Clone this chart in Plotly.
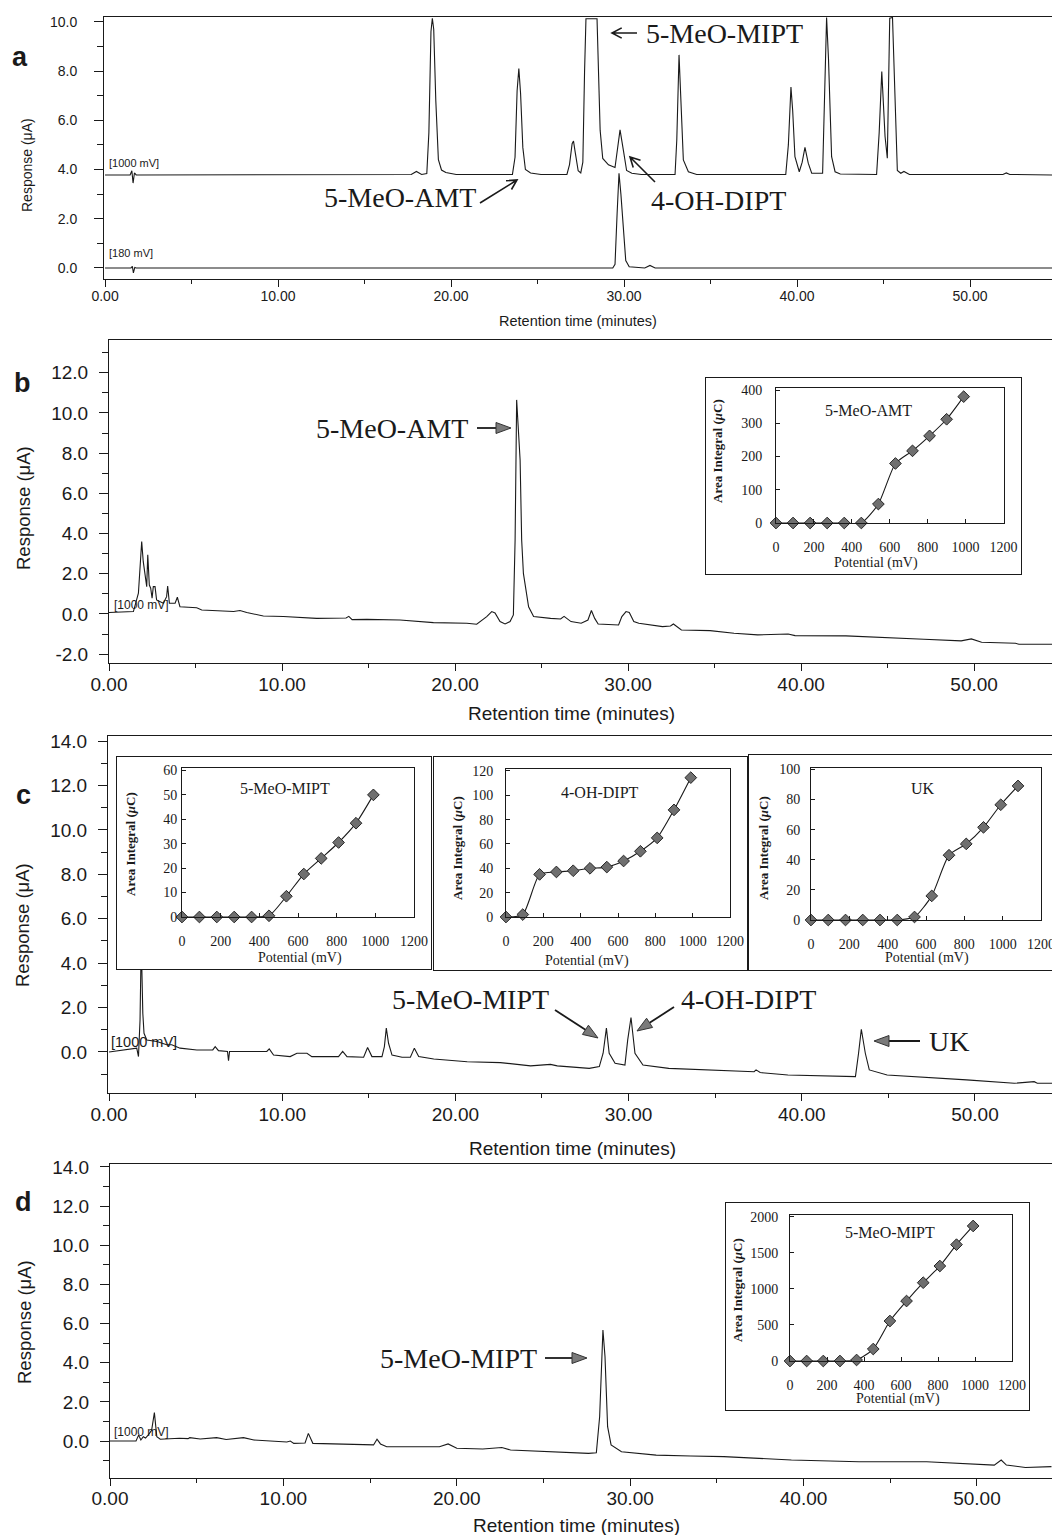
import math
import plotly.graph_objects as go

W, H = 1052, 1535

# ---------------- chromatogram data: retention time (min) / response (uA) ----------------
a_hi_time = [0.0, 1.45, 1.55, 1.62, 1.7, 1.8, 17.7, 18.0, 18.3, 18.6, 18.72, 18.84, 18.92, 19.0, 19.12, 19.27,
             19.45, 19.7, 20.3, 23.55, 23.7, 23.82, 23.92, 24.02, 24.15, 24.3, 24.6, 25.2, 26.7, 26.85, 27.0,
             27.08, 27.18, 27.35, 27.5, 27.62, 27.72, 27.8, 28.44, 28.52, 28.62, 28.77, 29.1, 29.48, 29.62,
             29.77, 29.96, 30.15, 30.45, 31.0, 32.95, 33.05, 33.18, 33.3, 33.43, 33.72, 34.2, 39.35, 39.5,
             39.65, 39.75, 39.88, 40.13, 40.3, 40.46, 40.65, 40.85, 41.48, 41.58, 41.71, 41.82, 42.0, 42.2,
             42.5, 44.6, 44.75, 44.9, 45.0, 45.09, 45.22, 45.3, 45.36, 45.52, 45.6, 45.68, 45.8, 46.0, 46.18,
             46.5, 51.9, 52.1, 52.3, 54.75]
a_hi_resp = [3.78, 3.78, 3.95, 3.45, 3.86, 3.78, 3.8, 3.92, 3.8, 3.84, 5.5, 9.6, 10.15, 9.7, 6.8, 4.4,
             3.98, 3.88, 3.8, 3.8, 4.5, 7.2, 8.1, 7.1, 4.9, 4.0, 3.86, 3.8, 3.8, 4.2, 5.05,
             5.16, 4.7, 3.95, 3.86, 4.3, 8.0, 10.13, 10.13, 8.0, 5.6, 4.45, 4.19, 4.08, 4.8,
             5.61, 4.8, 3.96, 3.85, 3.8, 3.8, 5.2, 8.66, 6.5, 4.39, 3.91, 3.8, 3.8, 5.0,
             7.35, 6.4, 4.52, 3.91, 4.3, 4.9, 4.26, 3.85, 3.85, 6.5, 10.18, 8.5, 4.52, 3.91,
             3.82, 3.8, 5.5, 7.98, 6.8, 5.34, 4.46, 7.5, 10.15, 10.18, 8.5, 6.2, 3.96, 3.85, 3.92,
             3.8, 3.8, 3.86, 3.8, 3.78]

a_lo_time = [0.0, 1.5, 1.58, 1.64, 1.72, 1.8, 29.35, 29.48, 29.6, 29.71, 29.82, 29.96, 30.1, 30.3,
             31.2, 31.5, 31.8, 54.75]
a_lo_resp = [0.0, 0.0, 0.06, -0.2, 0.02, 0.0, 0.0, 0.15, 2.2, 3.85, 3.0, 1.41, 0.3, 0.05,
             0.0, 0.1, 0.0, 0.0]

b_time = [0.0, 1.41, 1.7, 1.89, 1.98, 2.1, 2.18, 2.24, 2.33, 2.41, 2.49, 2.56, 2.66, 2.75, 3.14, 3.33,
          3.39, 3.49, 3.82, 3.95, 4.1, 5.07, 5.36, 7.2, 7.57, 7.96, 8.92, 10.08, 12.0, 13.7, 13.86, 14.05,
          14.9, 16.82, 18.17, 18.75, 20.68, 21.25, 21.83, 22.12, 22.31, 22.6, 22.89, 23.18, 23.37, 23.47,
          23.56, 23.76, 23.85, 23.95, 24.25, 24.54, 25.52, 26.1, 26.3, 26.5, 26.7, 27.29, 27.68, 27.88,
          28.07, 28.27, 29.45, 29.64, 29.88, 30.07, 30.33, 30.62, 31.99, 32.45, 32.62, 33.08, 34.74,
          36.12, 37.49, 39.25, 39.65, 42.59, 45.34, 47.1, 49.25, 49.84, 50.43, 52.39, 52.59, 54.5]
b_resp = [0.07, 0.12, 1.03, 3.6, 2.6, 1.77, 1.36, 2.94, 1.44, 1.28, 0.78, 1.36, 1.36, 0.7, 0.53, 0.86,
          1.39, 0.53, 0.53, 0.83, 0.36, 0.31, 0.2, 0.12, 0.17, 0.07, -0.1, -0.13, -0.22, -0.2, -0.12, -0.28,
          -0.27, -0.3, -0.38, -0.43, -0.46, -0.51, -0.13, 0.12, 0.05, -0.38, -0.5, -0.38, -0.05, 3.68,
          10.65, 7.66, 3.68, 2.02, 0.36, -0.13, -0.22, -0.25, -0.12, -0.25, -0.38, -0.46, -0.3, 0.17,
          -0.22, -0.5, -0.55, -0.13, 0.12, 0.07, -0.38, -0.46, -0.63, -0.6, -0.5, -0.8, -0.83,
          -0.96, -1.04, -1.0, -1.08, -1.09, -1.21, -1.26, -1.34, -1.24, -1.41, -1.46, -1.51, -1.51]

c_time = [0.0, 1.6, 1.7, 1.79, 1.86, 1.95, 2.02, 2.18, 2.76, 3.33, 3.62, 4.1, 5.07, 5.99, 6.13, 6.32,
          6.84, 6.9, 6.96, 9.11, 9.25, 9.5, 10.46, 10.85, 11.43, 11.71, 13.25, 13.49, 13.74, 14.7, 14.93,
          15.18, 15.76, 15.9, 16.01, 16.14, 16.34, 16.92, 17.4, 17.63, 17.88, 18.75, 20.68, 22.6, 24.34,
          25.49, 25.88, 27.03, 27.73, 28.31, 28.53, 28.72, 28.88, 29.22, 29.79, 29.95, 30.14, 30.37,
          30.83, 32.32, 34.61, 37.25, 37.36, 37.6, 39.2, 41.49, 43.1, 43.28, 43.44, 43.67, 43.9, 44.93,
          47.23, 49.52, 52.27, 52.96, 53.42, 53.6, 54.5]
c_resp = [0.0, 0.17, -0.21, 1.44, 5.0, 1.74, 0.84, 0.54, 0.47, 0.32, 0.32, 0.17, 0.09, 0.09, 0.24, 0.06,
          0.02, -0.39, 0.02, 0.02, 0.14, -0.14, -0.21, -0.06, -0.06, -0.21, -0.21, 0.02, -0.21, -0.24, 0.2,
          -0.21, -0.21, 0.24, 1.07, 0.39, -0.14, -0.24, -0.24, 0.17, -0.21, -0.32, -0.44, -0.48, -0.63,
          -0.56, -0.63, -0.69, -0.74, -0.66, -0.06, 1.07, -0.06, -0.51, -0.59, 0.54, 1.55, -0.06,
          -0.59, -0.74, -0.81, -0.89, -0.81, -0.93, -1.04, -1.08, -1.11, -0.06, 1.02, -0.06, -0.81, -1.04,
          -1.14, -1.26, -1.41, -1.38, -1.34, -1.41, -1.41]

d_time = [0.0, 1.5, 1.65, 1.78, 1.92, 2.05, 2.2, 2.4, 2.56, 2.7, 2.9, 4.0, 4.5, 4.6, 5.2, 6.15, 6.7, 7.7,
          8.3, 9.0, 10.2, 10.4, 10.6, 11.25, 11.44, 11.7, 12.9, 15.2, 15.4, 15.6, 15.96, 19.0, 19.5, 20.0,
          21.5, 22.6, 23.1, 25.6, 27.6, 28.05, 28.24, 28.43, 28.55, 28.7, 28.9, 29.5, 31.5, 33.5, 35.4,
          39.3, 43.2, 47.1, 49.1, 51.0, 51.4, 51.7, 52.8, 54.3]
d_resp = [0.0, 0.0, 0.3, 0.05, 0.22, 0.15, 0.3, 0.55, 1.45, 0.22, 0.09, 0.14, 0.12, 0.17, 0.1, 0.17, 0.08,
          0.17, 0.05, 0.0, -0.05, 0.0, -0.12, -0.1, 0.39, -0.12, -0.15, -0.2, 0.09, -0.15, -0.29, -0.29,
          -0.15, -0.37, -0.41, -0.33, -0.46, -0.55, -0.63, -0.6, 1.24, 5.67, 4.3, 0.73, -0.2, -0.55,
          -0.72, -0.77, -0.8, -0.97, -1.06, -1.06, -1.14, -1.23, -0.97, -1.23, -1.35, -1.31]

# y tick labels for panel b (hyphen minus as printed)
b_ytick_vals = [-2, 0, 2, 4, 6, 8, 10, 12]
b_ytick_text = ["-2.0", "0.0", "2.0", "4.0", "6.0", "8.0", "10.0", "12.0"]

# ---------------- inset data: potential (mV) / area integral (uC) ----------------
potential_mv = [0, 90, 180, 270, 360, 450, 540, 630, 720, 810, 900, 990]
potential_uk_mv = [0, 90, 180, 270, 360, 450, 540, 630, 720, 810, 900, 990, 1080]
area_b_amt = [0, 0, 0, 0, 0, 0, 57, 179, 217, 262, 312, 380]
area_c_mipt = [0, 0, 0, 0, 0, 0.5, 8.5, 17.6, 24, 30.5, 38.4, 50]
area_c_dipt = [0, 2, 35, 37, 38, 40, 41, 46, 54, 65, 88, 114.5]
area_c_uk = [0, 0, 0, 0, 0, 0, 2, 16, 43, 50.5, 61.5, 76.5, 89]
area_d_mipt = [0, 0, 0, 0, 14, 166, 554, 831, 1085, 1316, 1612, 1871]
potential_ticks = [0, 200, 400, 600, 800, 1000, 1200]

# ---------------- helpers ----------------
SANS = "Liberation Sans, Arial, sans-serif"
SERIF = "Liberation Serif, Times New Roman, serif"
INK = "#1a1a1a"


def X(px):
    return px / W


def Y(py):
    return 1 - py / H


fig = go.Figure()
layout = dict(template="none", width=W, height=H,
              margin=dict(l=0, r=0, t=0, b=0, pad=0, autoexpand=False),
              paper_bgcolor="white", plot_bgcolor="white", showlegend=False)
annotations = []
shapes = []


def aname(kind, n):
    return kind + "axis" + ("" if n == 1 else str(n))


def ref(kind, n):
    return kind + ("" if n == 1 else str(n))


# main chromatogram panels
main_specs = [
    # n, left, top, bottom, xrange, yrange, font size, y standoff, x standoff
    (1, 104, 17, 279, [-0.06, 54.74], [-0.45, 10.2], 14, 14, -3),
    (2, 109, 340, 663, [0, 54.5], [-2.44, 13.63], 19, 7, -3),
    (3, 108, 736, 1093, [-0.06, 54.45], [-1.85, 14.23], 19, 7, -3),
    (4, 110, 1164, 1478, [0, 54.33], [-1.89, 14.15], 19, 7, -4),
]
for n, left, top, bot, xr, yr, fs, ys, xs in main_specs:
    layout[aname("x", n)] = dict(
        domain=[X(left), 1], range=xr, anchor=ref("y", n), showline=True, linecolor=INK, linewidth=1,
        mirror=True, ticks="outside", ticklen=7, tickwidth=1, tickcolor=INK, dtick=10, tick0=0,
        tickformat=".2f", minor=dict(dtick=5, tick0=0, ticks="outside", ticklen=4, tickcolor=INK),
        showgrid=False, zeroline=False, tickfont=dict(family=SANS, size=fs, color=INK),
        ticklabelstandoff=xs, automargin=False)
    yax = dict(
        domain=[Y(bot), Y(top)], range=yr, anchor=ref("x", n), showline=True, linecolor=INK, linewidth=1,
        ticks="outside", ticklen=9, tickwidth=1, tickcolor=INK, dtick=2, tick0=0, tickformat=".1f",
        minor=dict(dtick=1, tick0=0, ticks="outside", ticklen=6, tickcolor=INK),
        showgrid=False, zeroline=False, tickfont=dict(family=SANS, size=fs, color=INK),
        ticklabelstandoff=ys, automargin=False)
    if n == 2:
        yax.update(tickmode="array", tickvals=b_ytick_vals, ticktext=b_ytick_text)
    layout[aname("y", n)] = yax

traces_main = [(a_hi_time, a_hi_resp, 1), (a_lo_time, a_lo_resp, 1), (b_time, b_resp, 2),
               (c_time, c_resp, 3), (d_time, d_resp, 4)]
for t, r, n in traces_main:
    fig.add_trace(go.Scatter(x=t, y=r, mode="lines", line=dict(color=INK, width=1.1),
                             xaxis=ref("x", n), yaxis=ref("y", n), hoverinfo="skip"))

# insets: frame subplot (white box) + inner plot
inset_specs = [
    # frame n, inner n, outer (l,t,r,b), inner (l,t,r,b), ymax, dtick, x, y, y-label standoff, right border
    (5, 10, (706, 378, 1021, 574), (776, 388, 1003.5, 523), 406, 100, potential_mv, area_b_amt, 10, True),
    (6, 11, (117, 757, 431, 969), (182, 768, 414, 917), 61, 10, potential_mv, area_c_mipt, 1, True),
    (7, 12, (434, 757, 747, 970), (506, 769, 730, 917), 121.6, 20, potential_mv, area_c_dipt, 9, True),
    (8, 13, (749, 755, 1060, 970), (811, 768, 1041, 920), 100.9, 20, potential_uk_mv, area_c_uk, 7, False),
    (9, 14, (726, 1203, 1029, 1410), (790, 1215, 1012, 1361), 2023, 500, potential_mv, area_d_mipt, 8, True),
]
for fn, inn, outer, inner, ymax, dt, xs_, ys_, ystand, rborder in inset_specs:
    ol, ot, orr, ob = outer
    layout[aname("x", fn)] = dict(domain=[X(ol), min(1, X(orr))], range=[0, 1], anchor=ref("y", fn),
                                  showline=True, mirror=True, linecolor=INK, linewidth=1.3, ticks="",
                                  showticklabels=False, showgrid=False, zeroline=False, fixedrange=True,
                                  automargin=False)
    layout[aname("y", fn)] = dict(domain=[Y(ob), Y(ot)], range=[0, 1], anchor=ref("x", fn),
                                  showline=True, mirror=rborder, linecolor=INK, linewidth=1.3, ticks="",
                                  showticklabels=False, showgrid=False, zeroline=False, fixedrange=True,
                                  automargin=False)
    fig.add_trace(go.Scatter(x=[], y=[], xaxis=ref("x", fn), yaxis=ref("y", fn), hoverinfo="skip"))
    il, it, ir, ib = inner
    layout[aname("x", inn)] = dict(domain=[X(il), X(ir)], range=[0, 1200], anchor=ref("y", inn),
                                   tickvals=potential_ticks, ticks="inside", ticklen=4, tickcolor=INK,
                                   showline=True, mirror=True, linecolor=INK, linewidth=1,
                                   showgrid=False, zeroline=False, automargin=False,
                                   ticklabeloverflow="allow",
                                   tickfont=dict(family=SERIF, size=14, color=INK), ticklabelstandoff=11)
    layout[aname("y", inn)] = dict(domain=[Y(ib), Y(it)], range=[0, ymax], anchor=ref("x", inn),
                                   dtick=dt, tick0=0, ticks="inside", ticklen=4, tickcolor=INK,
                                   showline=True, mirror=True, linecolor=INK, linewidth=1,
                                   showgrid=False, zeroline=False, automargin=False,
                                   tickfont=dict(family=SERIF, size=14, color=INK), ticklabelstandoff=ystand)
    fig.add_trace(go.Scatter(x=xs_, y=ys_, mode="lines+markers", cliponaxis=False,
                             line=dict(color=INK, width=1.1, shape="spline", smoothing=0.6),
                             marker=dict(symbol="diamond", size=9, color="#6f6f6f",
                                         line=dict(color="#262626", width=1)),
                             xaxis=ref("x", inn), yaxis=ref("y", inn), hoverinfo="skip"))


def text(s, x, y, size, family=SANS, xanchor="center", angle=0, bold=False):
    annotations.append(dict(text=("<b>%s</b>" % s) if bold else s, x=X(x), y=Y(y), xref="paper",
                            yref="paper", showarrow=False, xanchor=xanchor, yanchor="middle",
                            textangle=angle, font=dict(family=family, size=size, color=INK)))


# panel letters
for s, x, y in [("a", 20, 57), ("b", 22, 383), ("c", 23, 795), ("d", 23, 1202)]:
    text(s, x, y, 27, bold=True)

# axis titles
for x, y, s in [(27, 165, 14), (23, 508, 18.5), (22, 925, 18.5), (24, 1322, 18.5)]:
    text("Response (μA)", x, y, s, angle=-90)
for x, y, s in [(578, 321, 14.5), (571, 714, 19), (572, 1148, 19), (576, 1525, 19)]:
    text("Retention time (minutes)", x, y, s)

# trace potential labels
for s, x, y, fs in [("[1000 mV]", 107, 163, 11), ("[180 mV]", 107, 253, 11), ("[1000 mV]", 112, 605, 12),
                    ("[1000 mV]", 109, 1042, 14.5), ("[1000 mV]", 112, 1432, 12)]:
    text(s, x, y, fs, xanchor="left")

# peak labels
for s, x, y in [("5-MeO-AMT", 400, 198), ("4-OH-DIPT", 718, 200), ("5-MeO-MIPT", 724, 33),
                ("5-MeO-AMT", 392, 428), ("5-MeO-MIPT", 470, 1000), ("4-OH-DIPT", 748, 1000),
                ("UK", 949, 1041), ("5-MeO-MIPT", 458, 1358)]:
    text(s, x, y, 28, family=SERIF)

# inset labels
for s, x, y in [("5-MeO-AMT", 868, 411), ("5-MeO-MIPT", 285, 788), ("4-OH-DIPT", 600, 792),
                ("UK", 923, 788), ("5-MeO-MIPT", 890, 1232)]:
    text(s, x, y, 16, family=SERIF)
for x, y in [(718, 451), (130, 844), (457, 848), (763, 848), (737, 1290)]:
    text("<b>Area Integral (<i>μ</i>C)</b>", x, y, 13, family=SERIF, angle=-90)
for x, y in [(876, 563), (300, 958), (587, 961), (927, 958), (898, 1399)]:
    text("Potential (mV)", x, y, 14, family=SERIF)


def open_arrow(x0, y0, x1, y1, L=11):
    dx, dy = x1 - x0, y1 - y0
    d = math.hypot(dx, dy)
    ux, uy = dx / d, dy / d
    pts = []
    for a in (math.radians(28), -math.radians(28)):
        rx = ux * math.cos(a) - uy * math.sin(a)
        ry = ux * math.sin(a) + uy * math.cos(a)
        pts.append((x1 - L * rx, y1 - L * ry))
    p = "M %f,%f L %f,%f M %f,%f L %f,%f L %f,%f" % (
        X(x0), Y(y0), X(x1), Y(y1), X(pts[0][0]), Y(pts[0][1]), X(x1), Y(y1), X(pts[1][0]), Y(pts[1][1]))
    shapes.append(dict(type="path", path=p, xref="paper", yref="paper", line=dict(color=INK, width=1.6)))


def filled_arrow(x0, y0, x1, y1, L=15, w=5.5):
    dx, dy = x1 - x0, y1 - y0
    d = math.hypot(dx, dy)
    ux, uy = dx / d, dy / d
    bx, by = x1 - L * ux, y1 - L * uy
    px_, py_ = -uy, ux
    shapes.append(dict(type="path", path="M %f,%f L %f,%f" % (X(x0), Y(y0), X(bx), Y(by)),
                       xref="paper", yref="paper", line=dict(color=INK, width=1.8)))
    tri = "M %f,%f L %f,%f L %f,%f Z" % (X(x1), Y(y1), X(bx + w * px_), Y(by + w * py_),
                                         X(bx - w * px_), Y(by - w * py_))
    shapes.append(dict(type="path", path=tri, xref="paper", yref="paper", fillcolor="#7a7a7a",
                       line=dict(color="#333333", width=1)))


open_arrow(480, 203, 517, 180)
open_arrow(655, 182, 630, 157)
open_arrow(637, 33, 612, 33)
filled_arrow(477, 428, 511, 428)
filled_arrow(555, 1010, 598, 1038)
filled_arrow(674, 1007, 637, 1031)
filled_arrow(920, 1041, 874, 1041)
filled_arrow(545, 1358, 587, 1358)

layout["annotations"] = annotations
layout["shapes"] = shapes
fig.update_layout(**layout)
fig.write_html("out.html")
